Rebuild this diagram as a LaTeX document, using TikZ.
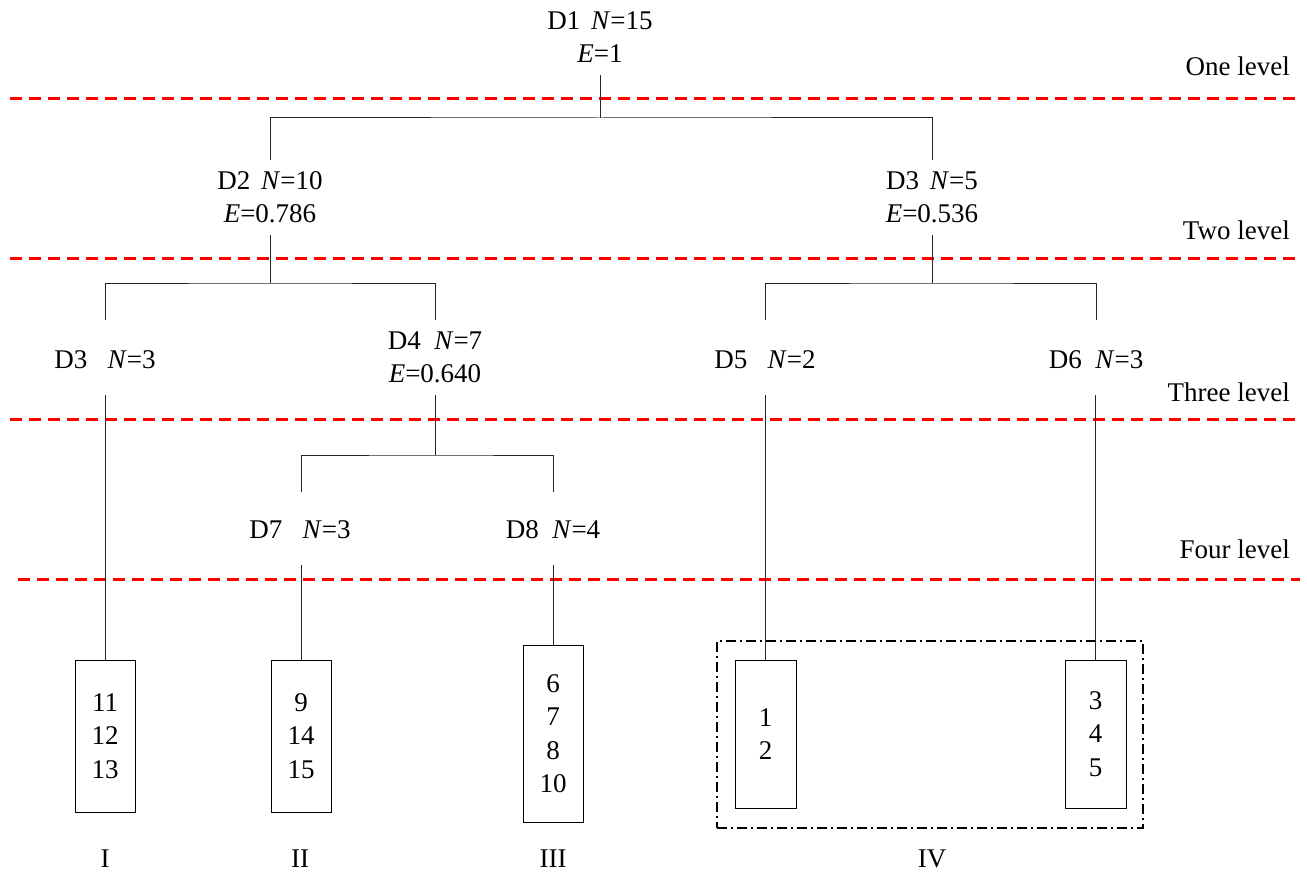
\documentclass[tikz,border=0pt]{standalone}
\usepackage{fontspec}
\setmainfont{Liberation Serif}
\begin{document}
\begin{tikzpicture}[x=1pt,y=-1pt,
  lbl/.style={font=\fontsize{27}{33}\selectfont, align=center, inner sep=0pt},
  leaf/.style={draw, line width=1pt, minimum width=60pt, inner sep=0pt,
    font=\fontsize{27}{33.5}\selectfont, align=center},
  tree/.style={line width=1pt, draw=black!85},
  lvl/.style={draw=red, line width=3pt, dash pattern=on 12pt off 7pt},
  grp/.style={draw, line width=2pt, dash pattern=on 10pt off 4pt on 2pt off 4pt, inner sep=0pt}]
\useasboundingbox (0,0) rectangle (1307,872);
% level separators
\draw[lvl] (10,99) -- (1300,99);
\draw[lvl] (10,258) -- (1300,258);
\draw[lvl] (10,419) -- (1300,419);
\draw[lvl] (18,579) -- (1300,579);
\node[lbl, anchor=base east] (l1t) at (1290,76) {One level};
\node[lbl, anchor=base east] (l2t) at (1290,239) {Two level};
\node[lbl, anchor=base east] (l3t) at (1290,401) {Three level};
\node[lbl, anchor=base east] (l4t) at (1290,558) {Four level};
% y levels
\coordinate (y75) at (0,75);
\coordinate (y118) at (0,118);
\coordinate (y160) at (0,160);
\coordinate (y235) at (0,235);
\coordinate (y283) at (0,283);
\coordinate (y320) at (0,320);
\coordinate (y395) at (0,395);
\coordinate (y455) at (0,455);
\coordinate (y492) at (0,492);
\coordinate (y565) at (0,565);
% tree nodes
\node[lbl] (d1) at (600,37) {D1\hspace{0.4em}\textit{N}=15\\\textit{E}=1};
\node[lbl] (d2) at (270,197) {D2\hspace{0.4em}\textit{N}=10\\\textit{E}=0.786};
\node[lbl] (d3) at (932,197) {D3\hspace{0.4em}\textit{N}=5\\\textit{E}=0.536};
\node[lbl] (d3b) at (105,360) {D3\hspace{0.75em}\textit{N}=3};
\node[lbl] (d4) at (435,357) {D4\hspace{0.5em}\textit{N}=7\\\textit{E}=0.640};
\node[lbl] (d5) at (765,360) {D5\hspace{0.75em}\textit{N}=2};
\node[lbl] (d6) at (1096,360) {D6\hspace{0.5em}\textit{N}=3};
\node[lbl] (d7) at (300,530) {D7\hspace{0.75em}\textit{N}=3};
\node[lbl] (d8) at (553,530) {D8\hspace{0.5em}\textit{N}=4};
% leaves
\node[leaf, minimum height=152pt] (b1) at (105,736) {11\\12\\13};
\node[leaf, minimum height=152pt] (b2) at (301,736) {9\\14\\15};
\node[leaf, minimum height=177pt] (b3) at (553,733.5) {6\\7\\8\\10};
\node[leaf, minimum height=148pt, minimum width=61pt] (b4) at (765.5,734) {1\\2};
\node[leaf, minimum height=148pt, minimum width=61pt] (b5) at (1095.5,734) {3\\4\\5};
\node[grp, minimum width=426pt, minimum height=187pt] (g) at (930,734.5) {};
% roman labels
\node[lbl] (r1) at (105,859) {I};
\node[lbl] (r2) at (300,859) {II};
\node[lbl] (r3) at (553,859) {III};
\node[lbl] (r4) at (932,859) {IV};
% connectors
\draw[tree] (d1.south |- y75) -- (d1.south |- y118);
\draw[tree] (d2.north |- y160) |- (d1.south |- y118) -| (d3.north |- y160);
\draw[tree] (d2.south |- y235) -- (d2.south |- y283);
\draw[tree] (b1.north |- y320) |- (d2.south |- y283) -| (d4.north |- y320);
\draw[tree] (d3.south |- y235) -- (d3.south |- y283);
\draw[tree] (d5.north |- y320) |- (d3.south |- y283) -| (d6.north |- y320);
\draw[tree] (b1.north |- y395) -- (b1.north);
\draw[tree] (d4.south |- y395) -- (d4.south |- y455);
\draw[tree] (b2.north |- y492) |- (d4.south |- y455) -| (b3.north |- y492);
\draw[tree] (b2.north |- y565) -- (b2.north);
\draw[tree] (b3.north |- y565) -- (b3.north);
\draw[tree] (b4.north |- y395) -- (b4.north);
\draw[tree] (b5.north |- y395) -- (b5.north);
\end{tikzpicture}
\end{document}
